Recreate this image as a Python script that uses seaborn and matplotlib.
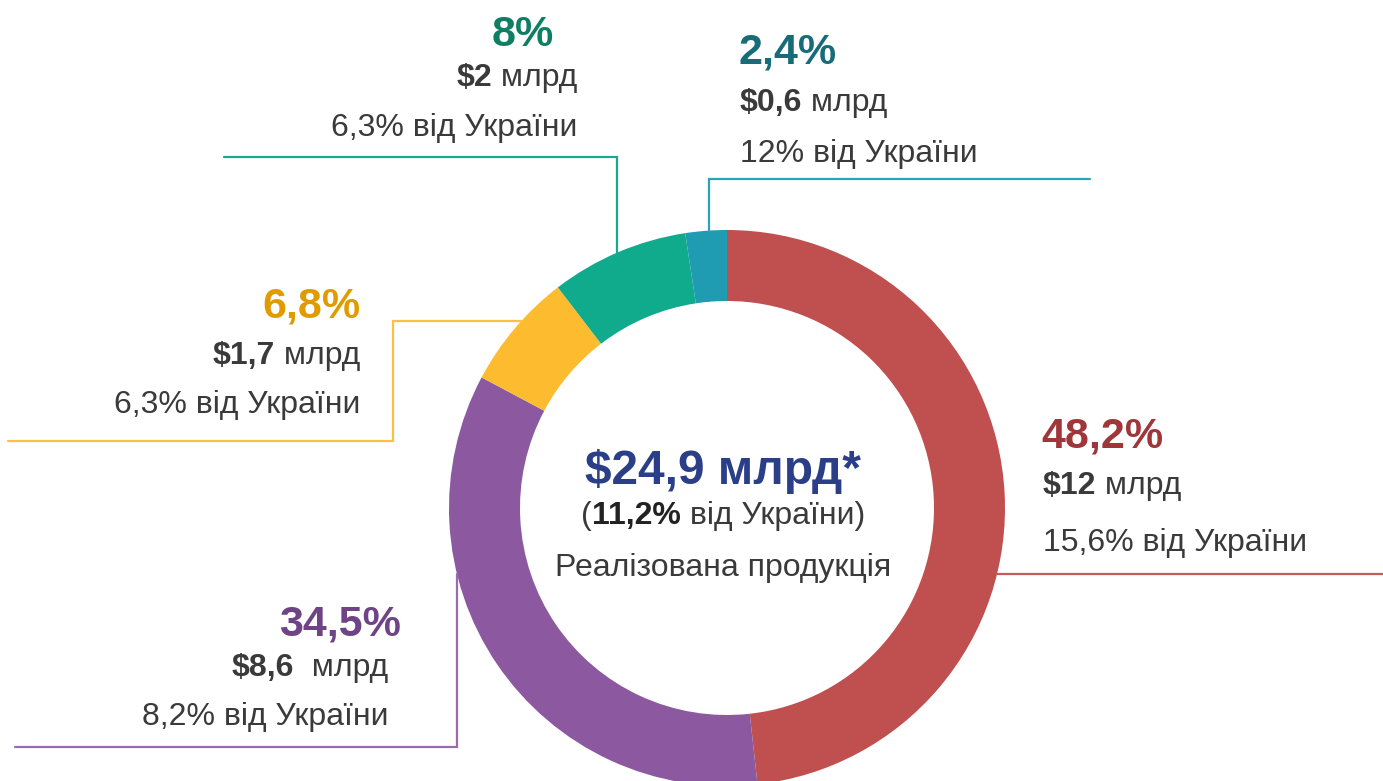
import numpy as np
import matplotlib
matplotlib.use('Agg')
import matplotlib.pyplot as plt
import seaborn as sns

# Data
shares = [48.2, 34.5, 6.8, 8.0, 2.4]
share_labels = ['48,2%', '34,5%', '6,8%', '8%', '2,4%']
amounts = ['$12', '$8,6', '$1,7', '$2', '$0,6']
ukraine_share = ['15,6%', '8,2%', '6,3%', '6,3%', '12%']
total_label = '$24,9 млрд*'
total_share = '11,2%'
center_caption = 'Реалізована продукція'

wedge_colors = ['#C0504F', '#8C59A0', '#FDBC30', '#10AB8C', '#1F9CB1']
label_colors = ['#A1363A', '#6F4486', '#E09B00', '#0F7F63', '#186C79']
line_colors = ['#C9585D', '#9C6AB1', '#FCC142', '#17AA90', '#2BA3BA']
grey = '#3A3A3A'
navy = '#2A3F87'

sns.set_theme(style='white')
plt.rcParams['font.family'] = ['Liberation Sans', 'DejaVu Sans']

W, H = 1383, 781
fig = plt.figure(figsize=(W / 100, H / 100), dpi=100)
ax = fig.add_axes([0, 0, 1, 1])

cx, cy, R, ring = 727, 508, 278, 71

def Y(py):
    return H - py

ax.pie(shares, colors=wedge_colors, startangle=90, counterclock=False,
       radius=R, center=(cx, Y(cy)),
       wedgeprops=dict(width=ring, linewidth=0, antialiased=True))
ax.set_xlim(0, W)
ax.set_ylim(0, H)
ax.set_aspect('auto')
ax.axis('off')

renderer = fig.canvas.get_renderer()


def runs(x, y, parts, ha='left'):
    # parts: list of (text, bold, color, size); drawn side by side on one baseline
    texts = []
    for s, bold, color, size in parts:
        t = ax.text(0, Y(y), s, fontsize=size, color=color,
                    fontweight='bold' if bold else 'normal', va='baseline', ha='left')
        texts.append(t)
    widths = [t.get_window_extent(renderer).width for t in texts]
    total = sum(widths)
    start = x if ha == 'left' else (x - total if ha == 'right' else x - total / 2)
    for t, w in zip(texts, widths):
        t.set_x(start)
        start += w


def on_ring_x(px):
    return np.sqrt(R ** 2 - (px - cx) ** 2)


def on_ring_y(py):
    return np.sqrt(R ** 2 - (py - cy) ** 2)


def leader(points, color):
    xs = [p[0] for p in points]
    ys = [Y(p[1]) for p in points]
    ax.plot(xs, ys, color=color, lw=1.6, solid_joinstyle='miter')


# leader lines from the label blocks to the ring
leader([(W, 574), (cx + on_ring_y(574), 574)], line_colors[0])
leader([(15, 747), (457, 747), (457, cy + on_ring_x(457))], line_colors[1])
leader([(8, 441), (393, 441), (393, 321), (cx - on_ring_y(321), 321)], line_colors[2])
leader([(224, 157), (617, 157), (617, cy - on_ring_x(617))], line_colors[3])
leader([(1090, 179), (709, 179), (709, cy - on_ring_x(709))], line_colors[4])

PS, AS, US = 31, 23, 23
tail = ' від України'

# label blocks: (x, ha, baselines)
blocks = [
    (1041, 'left', (448, 494, 551)),
    (401, 'right', (635, 676, 725)),
    (360, 'right', (317, 364, 413)),
    (577, 'right', (46, 86, 136)),
    (738, 'left', (64, 111, 162)),
]
for i, (x, ha, (b1, b2, b3)) in enumerate(blocks):
    x2 = x
    if i == 1:
        x2 = 388
    if i == 3:
        runs(523, b1, [(share_labels[i], True, label_colors[i], PS)], ha='center')
    else:
        runs(x, b1, [(share_labels[i], True, label_colors[i], PS)], ha=ha)
    mlrd = '  млрд' if i == 1 else ' млрд'
    runs(x2 + (2 if ha == 'left' else 0), b2,
         [(amounts[i], True, grey, AS), (mlrd, False, grey, AS)], ha=ha)
    runs(x2 + (2 if ha == 'left' else 0), b3,
         [(ukraine_share[i] + tail, False, grey, US)], ha=ha)

# centre text
runs(723, 484, [(total_label, True, navy, 34.5)], ha='center')
runs(723, 524, [('(', False, grey, 23), (total_share, True, '#222222', 23),
                (tail + ')', False, grey, 23)], ha='center')
runs(723, 576, [(center_caption, False, grey, 23)], ha='center')

fig.savefig('out.png', dpi=100)
